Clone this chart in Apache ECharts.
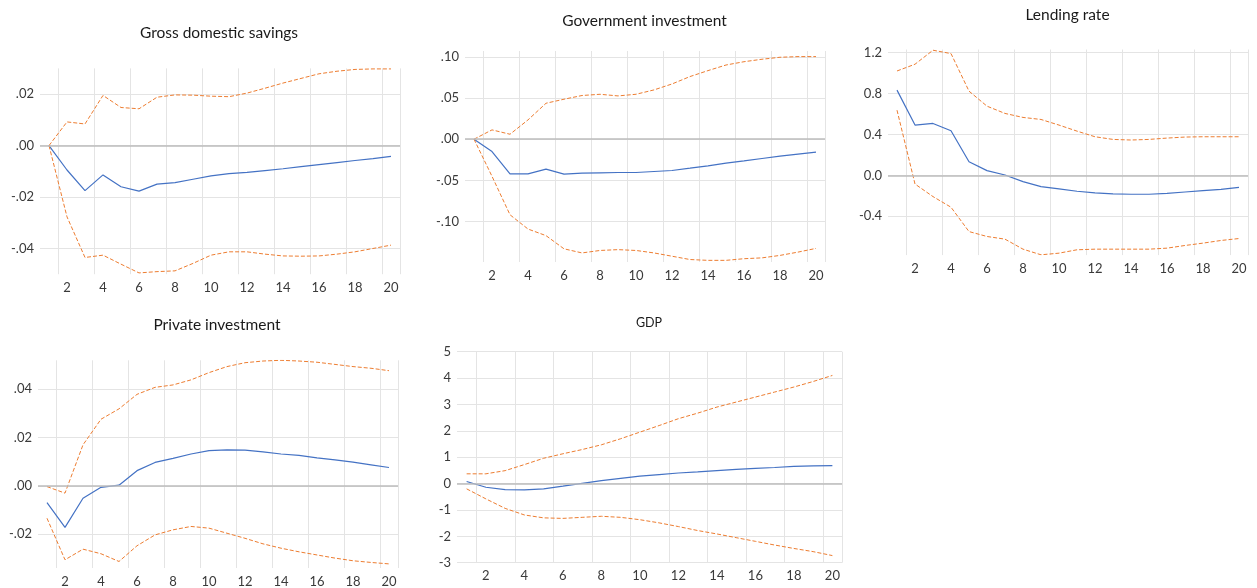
<!DOCTYPE html>
<html>
<head>
<meta charset="utf-8">
<script src="https://cdn.jsdelivr.net/npm/echarts@6/dist/echarts.min.js"></script>
<style>
html,body{margin:0;padding:0;background:#fff;}
#chart{width:1257px;height:588px;}
</style>
</head>
<body>
<div id="chart"></div>
<script>
// ---- categories (periods) ----
const periods = ['1','2','3','4','5','6','7','8','9','10','11','12','13','14','15','16','17','18','19','20'];

// ---- Gross domestic savings ----
const gdsResponse = [0, -0.0095, -0.0175, -0.0114, -0.016, -0.0177, -0.015, -0.0144, -0.0131, -0.0118, -0.0109, -0.0104, -0.0097, -0.009, -0.0082, -0.0074, -0.0066, -0.0058, -0.0051, -0.0042];
const gdsUpper    = [0, 0.0092, 0.0084, 0.0195, 0.0148, 0.0143, 0.0188, 0.0197, 0.0196, 0.0192, 0.019, 0.0204, 0.0223, 0.0243, 0.0261, 0.0279, 0.0289, 0.0296, 0.0298, 0.0298];
const gdsLower    = [0, -0.0277, -0.0435, -0.0426, -0.0461, -0.0495, -0.049, -0.0487, -0.0458, -0.0426, -0.0413, -0.0413, -0.0422, -0.0429, -0.043, -0.0429, -0.0422, -0.0413, -0.04, -0.0387];

// ---- Government investment ----
const govResponse = [0, -0.015, -0.042, -0.042, -0.0364, -0.0424, -0.0412, -0.0408, -0.0404, -0.0404, -0.0392, -0.038, -0.0352, -0.0323, -0.029, -0.0263, -0.0234, -0.0206, -0.0182, -0.0158];
const govUpper    = [0, 0.0113, 0.006, 0.0234, 0.0436, 0.0485, 0.053, 0.0545, 0.0525, 0.0545, 0.0598, 0.067, 0.076, 0.0832, 0.09, 0.094, 0.097, 0.0994, 0.1002, 0.1002];
const govLower    = [0, -0.045, -0.0917, -0.109, -0.117, -0.133, -0.138, -0.135, -0.134, -0.135, -0.138, -0.142, -0.146, -0.147, -0.147, -0.145, -0.144, -0.141, -0.137, -0.1325];

// ---- Lending rate ----
const lendResponse = [0.833, 0.491, 0.507, 0.436, 0.133, 0.046, 0.003, -0.062, -0.11, -0.133, -0.156, -0.172, -0.182, -0.185, -0.185, -0.176, -0.163, -0.15, -0.137, -0.117];
const lendUpper    = [1.02, 1.086, 1.223, 1.19, 0.823, 0.676, 0.605, 0.566, 0.546, 0.491, 0.432, 0.377, 0.351, 0.345, 0.351, 0.364, 0.374, 0.377, 0.377, 0.377];
const lendLower    = [0.637, -0.085, -0.208, -0.312, -0.55, -0.598, -0.624, -0.722, -0.777, -0.761, -0.728, -0.722, -0.722, -0.722, -0.722, -0.712, -0.686, -0.663, -0.637, -0.618];

// ---- Private investment ----
const privResponse = [-0.0069, -0.0172, -0.0051, -0.0006, 0.0003, 0.0063, 0.0097, 0.0114, 0.0132, 0.0146, 0.0149, 0.0148, 0.0141, 0.0132, 0.0126, 0.0116, 0.0108, 0.0098, 0.0087, 0.0076];
const privUpper    = [-0.0003, -0.003, 0.017, 0.0276, 0.0319, 0.0379, 0.0408, 0.0418, 0.0439, 0.0469, 0.0494, 0.051, 0.0517, 0.052, 0.0517, 0.0512, 0.0503, 0.0494, 0.0487, 0.0477];
const privLower    = [-0.0134, -0.0306, -0.0262, -0.0281, -0.0313, -0.0248, -0.0203, -0.0182, -0.0168, -0.0175, -0.0196, -0.0217, -0.024, -0.0258, -0.0273, -0.0286, -0.0299, -0.031, -0.0317, -0.0323];

// ---- GDP ----
const gdpResponse = [0.08, -0.14, -0.23, -0.24, -0.2, -0.1, 0.01, 0.11, 0.2, 0.28, 0.34, 0.4, 0.44, 0.49, 0.54, 0.58, 0.61, 0.65, 0.67, 0.68];
const gdpUpper    = [0.37, 0.37, 0.49, 0.72, 0.96, 1.13, 1.29, 1.47, 1.7, 1.95, 2.2, 2.46, 2.67, 2.9, 3.09, 3.28, 3.47, 3.66, 3.87, 4.1];
const gdpLower    = [-0.2, -0.58, -0.94, -1.19, -1.3, -1.32, -1.28, -1.24, -1.28, -1.37, -1.49, -1.63, -1.78, -1.91, -2.05, -2.19, -2.33, -2.46, -2.58, -2.73];

// ---- titles ----
const titles = ['Gross domestic savings', 'Government investment', 'Lending rate', 'Private investment', 'GDP'];

const FONT = 'Lato, "Open Sans", sans-serif';
const BLUE = '#4472C4';
const ORANGE = '#ED7D31';
const GRID_C = '#e4e4e4';
const ZERO_C = '#bdbdbd';
const TEXT_C = '#3a3a3a';

const dot2 = v => v.toFixed(2).replace('0.', '.');
const one1 = v => v.toFixed(1);
const int0 = v => v.toFixed(0);

const panels = [
  {title: titles[0], mid: gdsResponse, up: gdsUpper, lo: gdsLower,
   grid: {left: 40, top: 68.4, width: 360, height: 205.8},
   min: -0.05, max: 0.03, step: 0.001, major: 0.02, fmt: dot2, tx: 219, ty: 33, ts: 15.5},
  {title: titles[1], mid: govResponse, up: govUpper, lo: govLower,
   grid: {left: 465, top: 51, width: 360, height: 211},
   min: -0.149, max: 0.107, step: 0.001, major: 0.05, fmt: dot2, tx: 644.5, ty: 21, ts: 15.5},
  {title: titles[2], mid: lendResponse, up: lendUpper, lo: lendLower,
   grid: {left: 888, top: 49.5, width: 360, height: 205.6},
   min: -0.78, max: 1.23, step: 0.01, major: 0.4, fmt: one1, tx: 1067.5, ty: 15, ts: 15.5},
  {title: titles[3], mid: privResponse, up: privUpper, lo: privLower,
   grid: {left: 38, top: 360.3, width: 360, height: 207.9},
   min: -0.034, max: 0.052, step: 0.001, major: 0.02, fmt: dot2, tx: 217, ty: 325, ts: 15.5},
  {title: titles[4], mid: gdpResponse, up: gdpUpper, lo: gdpLower,
   grid: {left: 457, top: 351.7, width: 385, height: 211},
   min: -3, max: 5, step: 1, major: 1, fmt: int0, tx: 649, ty: 323, ts: 12.5}
];

function isMajor(v, major) {
  const r = v / major;
  return Math.abs(r - Math.round(r)) < 1e-6;
}

const option = {
  animation: false,
  backgroundColor: '#ffffff',
  title: [], grid: [], xAxis: [], yAxis: [], series: []
};

panels.forEach((p, k) => {
  option.title.push({
    text: p.title, left: p.tx, top: p.ty, textAlign: 'center', textVerticalAlign: 'middle', padding: 0,
    textStyle: {fontFamily: FONT, fontSize: p.ts, fontWeight: 'normal', color: '#1a1a1a'}
  });
  option.grid.push(Object.assign({containLabel: false}, p.grid));
  option.xAxis.push({
    type: 'category', gridIndex: k, data: periods, boundaryGap: true,
    axisLine: {show: false}, axisTick: {show: false},
    axisLabel: {interval: (i) => i % 2 === 1, color: TEXT_C, fontFamily: FONT, fontSize: 13, margin: 7},
    splitLine: {show: true, interval: (i) => i % 2 === 1, lineStyle: {color: GRID_C, width: 1}}
  });
  const n = Math.round((p.max - p.min) / p.step) + 1;
  const colors = [];
  for (let i = 0; i < n; i++) {
    const v = p.min + i * p.step;
    colors.push(isMajor(v, p.major) ? GRID_C : 'rgba(0,0,0,0)');
  }
  option.yAxis.push({
    type: 'value', gridIndex: k, min: p.min, max: p.max, interval: p.step,
    axisLine: {show: false}, axisTick: {show: false},
    axisLabel: {
      color: TEXT_C, fontFamily: FONT, fontSize: 13, margin: 6,
      showMinLabel: true, showMaxLabel: true,
      formatter: (v) => isMajor(v, p.major) ? p.fmt(Math.abs(v) < 1e-9 ? 0 : v) : ''
    },
    splitLine: {show: true, lineStyle: {color: colors, width: 1}}
  });
  option.series.push({
    type: 'line', xAxisIndex: k, yAxisIndex: k, data: p.mid, symbol: 'none', z: 3,
    lineStyle: {color: BLUE, width: 1.2},
    markLine: {
      silent: true, symbol: 'none', label: {show: false}, animation: false,
      lineStyle: {color: ZERO_C, width: 1.5, type: 'solid'},
      data: [{yAxis: 0}]
    }
  });
  option.series.push({
    type: 'line', xAxisIndex: k, yAxisIndex: k, data: p.up, symbol: 'none', z: 3,
    lineStyle: {color: ORANGE, width: 1, type: [4, 2]}
  });
  option.series.push({
    type: 'line', xAxisIndex: k, yAxisIndex: k, data: p.lo, symbol: 'none', z: 3,
    lineStyle: {color: ORANGE, width: 1, type: [4, 2]}
  });
});

const chart = echarts.init(document.getElementById('chart'), null, {renderer: 'canvas'});
chart.setOption(option);
</script>
</body>
</html>
